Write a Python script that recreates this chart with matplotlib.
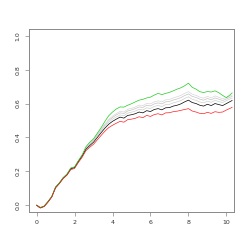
import matplotlib
matplotlib.use("Agg")
import matplotlib.pyplot as plt

x = [0.0, 0.1, 0.2, 0.4, 0.6, 0.8, 1.0, 1.2, 1.4, 1.6, 1.8, 2.0, 2.2, 2.4, 2.6, 2.8, 3.0,
     3.2, 3.4, 3.6, 3.8, 4.0, 4.2, 4.4, 4.6, 4.8, 5.0, 5.2, 5.4, 5.6, 5.8, 6.0,
     6.2, 6.4, 6.6, 6.8, 7.0, 7.2, 7.4, 7.6, 7.8, 8.0, 8.2, 8.4, 8.6, 8.8, 9.0,
     9.2, 9.4, 9.6, 9.8, 10.0, 10.2, 10.3]

black = [0.0, -0.008, -0.015, -0.006, 0.02, 0.05, 0.105, 0.13, 0.16, 0.18, 0.215, 0.222, 0.258,
         0.29, 0.33, 0.352, 0.372, 0.40, 0.428, 0.455, 0.478, 0.495, 0.508, 0.52, 0.514, 0.53,
         0.534, 0.54, 0.55, 0.545, 0.558, 0.553, 0.565, 0.57, 0.563, 0.575, 0.576, 0.585, 0.59,
         0.598, 0.61, 0.62, 0.606, 0.60, 0.59, 0.585, 0.596, 0.588, 0.60, 0.594, 0.588, 0.60,
         0.612, 0.618]

green = [0.0, -0.006, -0.013, -0.005, 0.022, 0.052, 0.108, 0.132, 0.163, 0.184, 0.22, 0.226, 0.263,
         0.297, 0.345, 0.372, 0.392, 0.425, 0.458, 0.495, 0.528, 0.55, 0.568, 0.58, 0.579, 0.59,
         0.599, 0.61, 0.62, 0.625, 0.633, 0.638, 0.65, 0.66, 0.653, 0.66, 0.666, 0.675, 0.685,
         0.693, 0.705, 0.72, 0.696, 0.685, 0.67, 0.665, 0.671, 0.668, 0.675, 0.664, 0.648, 0.635,
         0.652, 0.663]

red = [0.0, -0.01, -0.017, -0.008, 0.018, 0.048, 0.102, 0.127, 0.157, 0.177, 0.21, 0.217, 0.252,
       0.283, 0.322, 0.342, 0.36, 0.386, 0.412, 0.437, 0.458, 0.472, 0.484, 0.495, 0.49, 0.505,
       0.508, 0.513, 0.522, 0.517, 0.53, 0.524, 0.535, 0.54, 0.533, 0.545, 0.546, 0.552, 0.555,
       0.56, 0.565, 0.57, 0.556, 0.55, 0.542, 0.54, 0.548, 0.542, 0.552, 0.548, 0.55, 0.562,
       0.572, 0.578]

gray1 = [0.0, -0.007, -0.014, -0.006, 0.021, 0.051, 0.106, 0.131, 0.161, 0.181, 0.216, 0.223, 0.259,
         0.292, 0.334, 0.358, 0.38, 0.41, 0.438, 0.467, 0.49, 0.508, 0.521, 0.533, 0.528, 0.544,
         0.549, 0.556, 0.566, 0.562, 0.575, 0.571, 0.583, 0.589, 0.582, 0.594, 0.595, 0.604, 0.61,
         0.618, 0.63, 0.64, 0.625, 0.619, 0.609, 0.604, 0.614, 0.607, 0.619, 0.612, 0.606, 0.617,
         0.628, 0.632]

gray2 = [0.0, -0.006, -0.015, -0.005, 0.02, 0.05, 0.107, 0.132, 0.162, 0.182, 0.217, 0.225, 0.261,
         0.294, 0.337, 0.362, 0.385, 0.416, 0.446, 0.475, 0.50, 0.518, 0.533, 0.545, 0.541, 0.556,
         0.562, 0.57, 0.58, 0.577, 0.59, 0.586, 0.598, 0.604, 0.598, 0.61, 0.612, 0.621, 0.627,
         0.635, 0.647, 0.657, 0.642, 0.636, 0.626, 0.62, 0.63, 0.622, 0.633, 0.626, 0.618, 0.627,
         0.638, 0.642]

gray3 = [0.0, -0.007, -0.013, -0.004, 0.021, 0.051, 0.107, 0.131, 0.162, 0.183, 0.218, 0.224, 0.262,
         0.295, 0.34, 0.365, 0.388, 0.42, 0.45, 0.48, 0.506, 0.525, 0.541, 0.554, 0.55, 0.566,
         0.572, 0.58, 0.591, 0.588, 0.601, 0.598, 0.61, 0.616, 0.61, 0.622, 0.624, 0.633, 0.64,
         0.648, 0.66, 0.67, 0.655, 0.648, 0.638, 0.632, 0.642, 0.634, 0.645, 0.637, 0.628, 0.636,
         0.646, 0.65]

xticks = [0, 2, 4, 6, 8, 10]
yticks = [0.0, 0.2, 0.4, 0.6, 0.8, 1.0]

fig = plt.figure(figsize=(2.49, 2.49), dpi=100)
ax = fig.add_axes([29/249, 37/249, 205/249, 183/249])

lw = 0.5
for g, c in zip([gray1, gray2, gray3], ["#d0d0d0", "#c4c4c4", "#d8d8d8"]):
    ax.plot(x, g, color=c, lw=lw)
ax.plot(x, black, color="black", lw=lw)
ax.plot(x, green, color="#22cc22", lw=lw)
ax.plot(x, red, color="#ff2020", lw=lw)

ax.set_xlim(-0.4, 10.4)
ax.set_ylim(-0.04, 1.04)
ax.set_xticks(xticks)
ax.set_xticklabels([str(t) for t in xticks])
ax.set_yticks(yticks)
ax.set_yticklabels([f"{t:.1f}" for t in yticks], rotation=90, va="center")
for s in ax.spines.values():
    s.set_color("#888888")
    s.set_linewidth(0.7)
ax.tick_params(axis="both", length=3, width=0.5, color="#888888", labelsize=4.5,
               labelcolor="#333333", pad=3)

fig.savefig("out.png", dpi=100)
